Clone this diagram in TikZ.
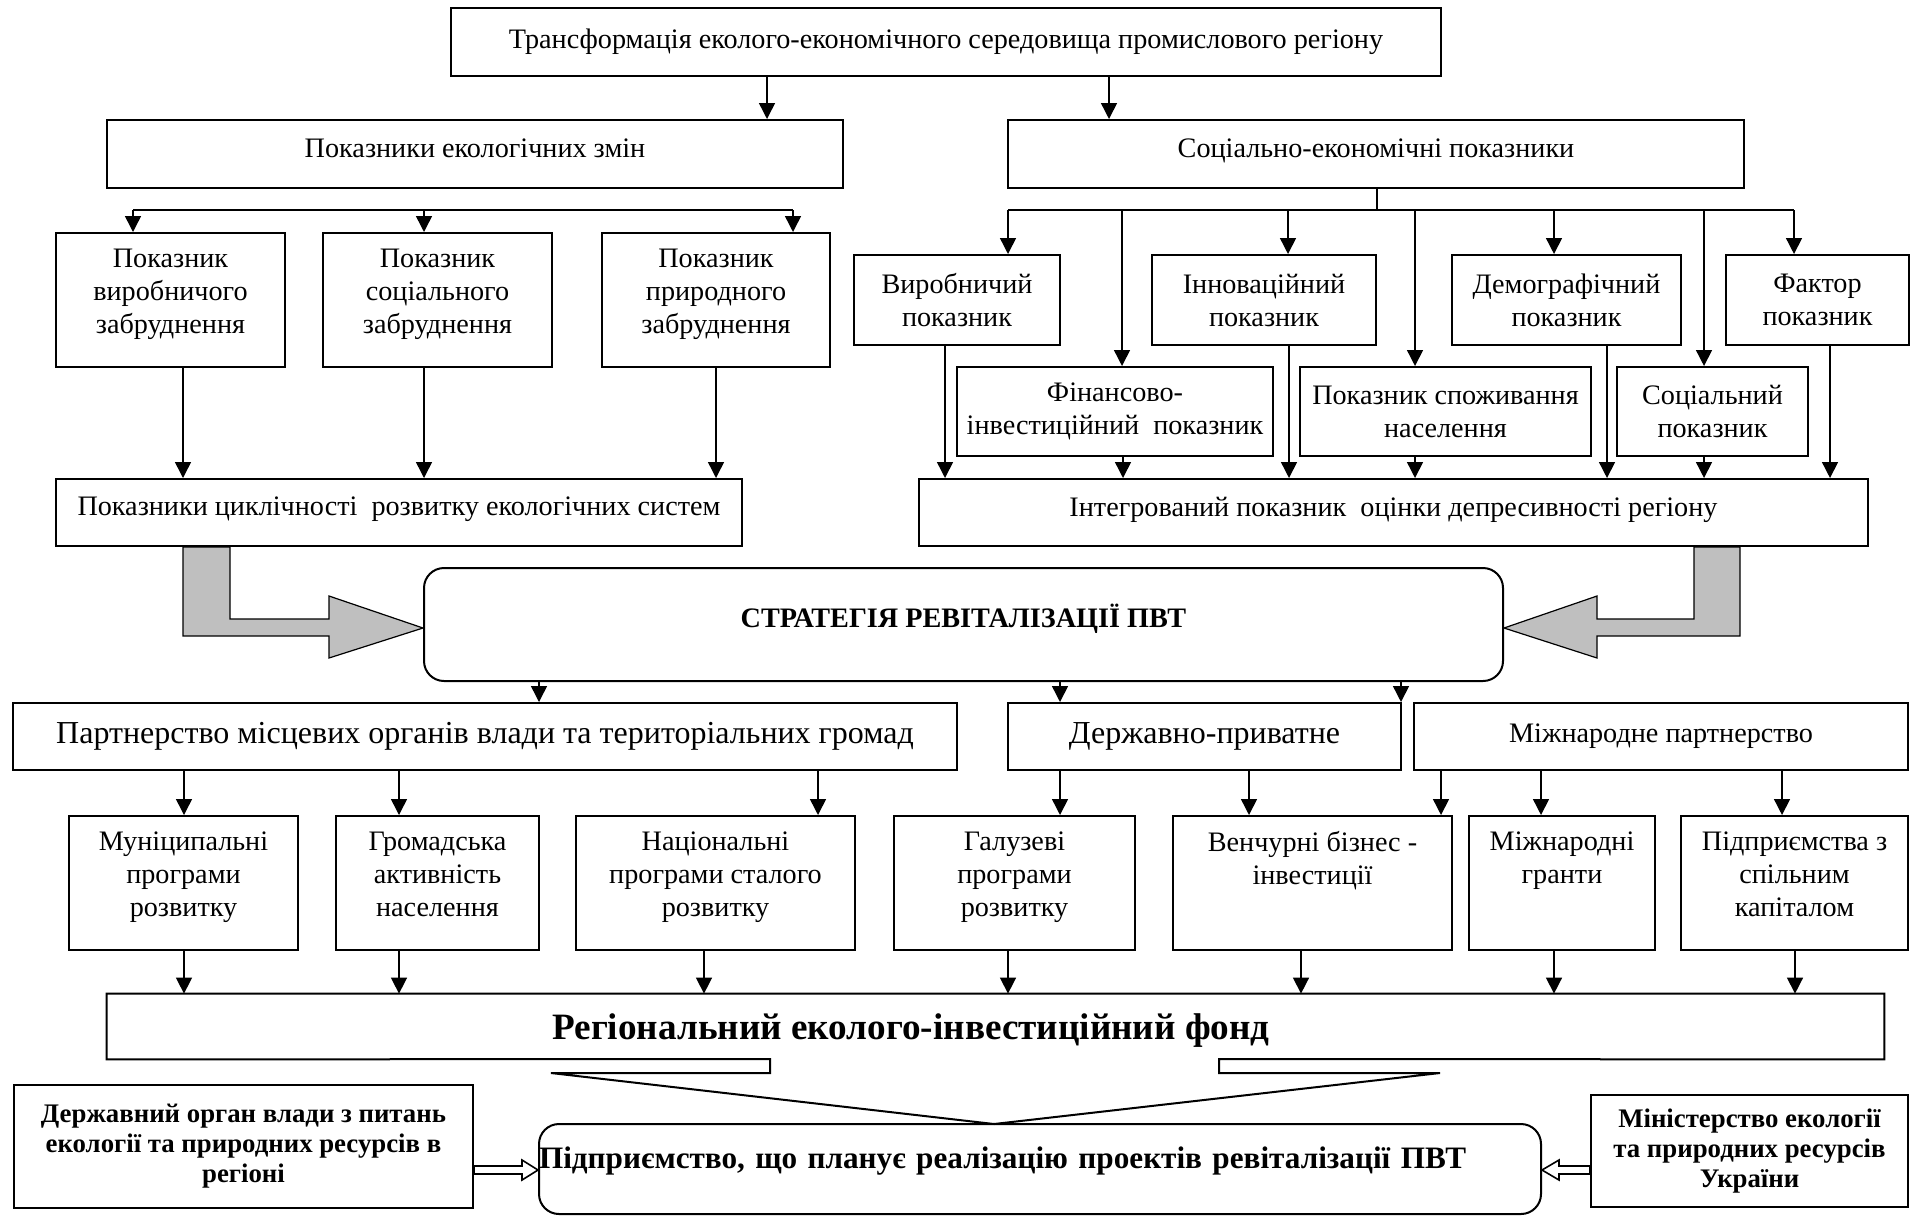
\documentclass[tikz,border=0pt]{standalone}
\usepackage{fontspec}
\setmainfont{Liberation Serif}
\usepackage{tikz}
\usetikzlibrary{arrows.meta}
\newcommand{\nf}{\fontsize{14.1}{16.5}\selectfont}
\newcommand{\lf}{\fontsize{16}{19}\selectfont}
\newcommand{\sbf}{\fontsize{13.4}{15}\selectfont\bfseries}
\newcommand{\mbf}{\fontsize{15.6}{18}\selectfont\bfseries}
\newcommand{\hbf}{\fontsize{18.6}{22}\selectfont\bfseries}
\tikzset {
  % one unit is one pixel of the plan, y grows downwards
  x={0.5pt}, y={-0.5pt},
  >={Triangle[length=8pt, width=8pt]},
  % node filling the plan rectangle x1,y1,x2,y2
  cell/.style args={#1,#2,#3,#4}{at={({(#1+#3)/2},{(#2+#4)/2})},
    minimum width={(#3-#1)*0.5pt}, minimum height={(#4-#2)*0.5pt}},
  % framed box
  box/.style = {draw, line width=1pt, inner sep=0pt, align=center, font=\nf},
  % rounded frame
  rbox/.style = {box, rounded corners=10pt},
  % text sits a little above the middle
  raised/.style = {text depth=9pt},
  % thin connectors
  conn/.style = {line width=0.75pt},
  % broad grey arrows
  block/.style = {draw, line width=0.6pt, fill=black!25},
  % hollow arrows at the bottom
  hollow/.style = {draw, line width=0.8pt, fill=white},
}

\begin{document}
\begin{tikzpicture}
  \useasboundingbox (0,0) rectangle (1914,1216);

  % top
  \node[box, cell={451,8,1441,76}] (t) {Трансформація еколого-економічного середовища промислового регіону};
  \node[box, text depth=6pt, cell={107,120,843,188}] (e) {Показники екологічних змін};
  \node[box, text depth=6pt, cell={1008,120,1744,188}] (s) {Соціально-економічні показники};
  \draw [->, conn] (t.south -| 767,0) -- (e.north -| 767,0);
  \draw [->, conn] (t.south -| 1109,0) -- (s.north -| 1109,0);

  % ecological indicators
  \coordinate (l1) at (133,210);
  \coordinate (l2) at (424,210);
  \coordinate (l3) at (793,210);
  \node[box, raised, cell={56,233,285,367}] (p1) {Показник\\виробничого\\забруднення};
  \node[box, raised, cell={323,233,552,367}] (p2) {Показник\\соціального\\забруднення};
  \node[box, raised, cell={602,233,830,367}] (p3) {Показник\\природного\\забруднення};
  \node[box, text depth=6pt, cell={56,479,742,546}] (c) {Показники циклічності\ \ розвитку екологічних систем};
  \draw [conn] (l1) -- (l3);
  \draw [->, conn] (l1) -- (p1.north -| l1);
  \draw [->, conn] (l2) -- (p2.north -| l2);
  \draw [->, conn] (l3) -- (p3.north -| l3);
  \draw [->, conn] (p1.south -| 183,0) -- (c.north -| 183,0);
  \draw [->, conn] (p2.south -| 424,0) -- (c.north -| 424,0);
  \draw [->, conn] (p3.south -| 716,0) -- (c.north -| 716,0);

  % socio-economic indicators
  \coordinate (r0) at (1377,210);
  \coordinate (r1) at (1008,210);
  \coordinate (r2) at (1122,210);
  \coordinate (r3) at (1288,210);
  \coordinate (r4) at (1415,210);
  \coordinate (r5) at (1554,210);
  \coordinate (r6) at (1704,210);
  \coordinate (r7) at (1794,210);
  \node[box, cell={854,255,1060,345}] (i1) {Виробничий\\показник};
  \node[box, cell={1152,255,1376,345}] (i2) {Інноваційний\\показник};
  \node[box, cell={1452,255,1681,345}] (i3) {Демографічний\\показник};
  \node[box, cell={1726,255,1909,345}] (i4) {Фактор\\показник};
  \node[box, cell={957,367,1273,456}] (j1) {Фінансово-\\інвестиційний\ \ показник};
  \node[box, cell={1300,367,1591,456}] (j2) {Показник споживання\\населення};
  \node[box, cell={1617,367,1808,456}] (j3) {Соціальний\\показник};
  \node[box, text depth=6pt, cell={919,479,1868,546}] (g) {Інтегрований показник\ \ оцінки депресивності регіону};
  \draw [conn] (s.south -| r0) -- (r0);
  \draw [conn] (r1) -- (r7);
  \draw [->, conn] (r1) -- (i1.north -| r1);
  \draw [->, conn] (r2) -- (j1.north -| r2);
  \draw [->, conn] (r3) -- (i2.north -| r3);
  \draw [->, conn] (r4) -- (j2.north -| r4);
  \draw [->, conn] (r5) -- (i3.north -| r5);
  \draw [->, conn] (r6) -- (j3.north -| r6);
  \draw [->, conn] (r7) -- (i4.north -| r7);
  \draw [->, conn] (i1.south -| 945,0) -- (g.north -| 945,0);
  \draw [->, conn] (j1.south -| 1123,0) -- (g.north -| 1123,0);
  \draw [->, conn] (i2.south -| 1289,0) -- (g.north -| 1289,0);
  \draw [->, conn] (j2.south -| 1415,0) -- (g.north -| 1415,0);
  \draw [->, conn] (i3.south -| 1607,0) -- (g.north -| 1607,0);
  \draw [->, conn] (j3.south -| 1704,0) -- (g.north -| 1704,0);
  \draw [->, conn] (i4.south -| 1830,0) -- (g.north -| 1830,0);

  % strategy
  \node[rbox, raised, font=\nf\bfseries, cell={424,568,1503,681}] (st) {СТРАТЕГІЯ РЕВІТАЛІЗАЦІЇ ПВТ};
  \draw [block] (c.south -| 183,0) -- (c.south -| 230,0) -- (230,619) -- (329,619) -- (329,596)
    -- (st.west |- 0,628) -- (329,658) -- (329,636) -- (183,636) -- cycle;
  \draw [block] (g.south -| 1740,0) -- (g.south -| 1694,0) -- (1694,619) -- (1597,619) -- (1597,596)
    -- (st.east |- 0,628) -- (1597,658) -- (1597,636) -- (1740,636) -- cycle;

  % partnerships
  \node[box, font=\lf, cell={13,703,957,770}] (a1) {Партнерство місцевих органів влади та територіальних громад};
  \node[box, font=\lf, cell={1008,703,1401,770}] (a2) {Державно-приватне};
  \node[box, cell={1414,703,1908,770}] (a3) {Міжнародне партнерство};
  \draw [->, conn] (st.south -| 539,0) -- (a1.north -| 539,0);
  \draw [->, conn] (st.south -| 1060,0) -- (a2.north -| 1060,0);
  \draw [->, conn] (st.south -| 1401,0) -- (a2.north -| 1401,0);

  % programmes
  \node[box, raised, cell={69,816,298,950}] (m1) {Муніципальні\\програми\\розвитку};
  \node[box, raised, cell={336,816,539,950}] (m2) {Громадська\\активність\\населення};
  \node[box, raised, cell={576,816,855,950}] (m3) {Національні\\програми сталого\\розвитку};
  \node[box, raised, cell={894,816,1135,950}] (m4) {Галузеві\\програми\\розвитку};
  \node[box, raised, cell={1173,816,1452,950}] (m5) {Венчурні бізнес -\\інвестиції\\\strut};
  \node[box, raised, cell={1469,816,1655,950}] (m6) {Міжнародні\\гранти\\\strut};
  \node[box, raised, cell={1681,816,1908,950}] (m7) {Підприємства з\\спільним\\капіталом};
  \draw [->, conn] (a1.south -| 184,0) -- (m1.north -| 184,0);
  \draw [->, conn] (a1.south -| 399,0) -- (m2.north -| 399,0);
  \draw [->, conn] (a1.south -| 818,0) -- (m3.north -| 818,0);
  \draw [->, conn] (a2.south -| 1060,0) -- (m4.north -| 1060,0);
  \draw [->, conn] (a2.south -| 1249,0) -- (m5.north -| 1249,0);
  \draw [->, conn] (a3.south -| 1441,0) -- (m5.north -| 1441,0);
  \draw [->, conn] (a3.south -| 1541,0) -- (m6.north -| 1541,0);
  \draw [->, conn] (a3.south -| 1782,0) -- (m7.north -| 1782,0);

  % fund
  \node[inner sep=0pt, cell={107,994,1884,1059}] (f) {};
  \node[font=\hbf] (ft) at (911,1031) {Регіональний еколого-інвестиційний фонд};
  \draw [line width=1pt] (f.north west) -- (f.north east) -- (f.south east) -- (1219,1059) -- (1219,1073)
    -- (1440,1073) -- (994,1124) -- (551,1073) -- (770,1073) -- (770,1059) -- (f.south west) -- cycle;
  \draw [->, conn] (m1.south -| 184,0) -- (f.north -| 184,0);
  \draw [->, conn] (m2.south -| 399,0) -- (f.north -| 399,0);
  \draw [->, conn] (m3.south -| 704,0) -- (f.north -| 704,0);
  \draw [->, conn] (m4.south -| 1008,0) -- (f.north -| 1008,0);
  \draw [->, conn] (m5.south -| 1301,0) -- (f.north -| 1301,0);
  \draw [->, conn] (m6.south -| 1554,0) -- (f.north -| 1554,0);
  \draw [->, conn] (m7.south -| 1795,0) -- (f.north -| 1795,0);

  % bottom row
  \node[rbox, font=\mbf, text width=501pt, align=left, text depth=11pt, cell={539,1124,1541,1214}] (w) {Підприємство, що планує реалізацію проектів ревіталізації ПВТ};
  \node[box, font=\sbf, cell={14,1085,473,1208}] (d) {Державний орган влади з питань\\екології та природних ресурсів в\\регіоні};
  \node[box, font=\sbf, cell={1591,1095,1908,1207}] (n) {Міністерство екології\\та природних ресурсів\\України};
  \draw [hollow] (d.east |- 0,1166) -- (522,1166) -- (522,1160) -- (w.west |- 0,1170) -- (522,1180) -- (522,1174)
    -- (d.east |- 0,1174) -- cycle;
  \draw [hollow] (n.west |- 0,1166) -- (1559,1166) -- (1559,1160) -- (w.east |- 0,1170) -- (1559,1180) -- (1559,1174)
    -- (n.west |- 0,1174) -- cycle;
\end{tikzpicture}
\end{document}
